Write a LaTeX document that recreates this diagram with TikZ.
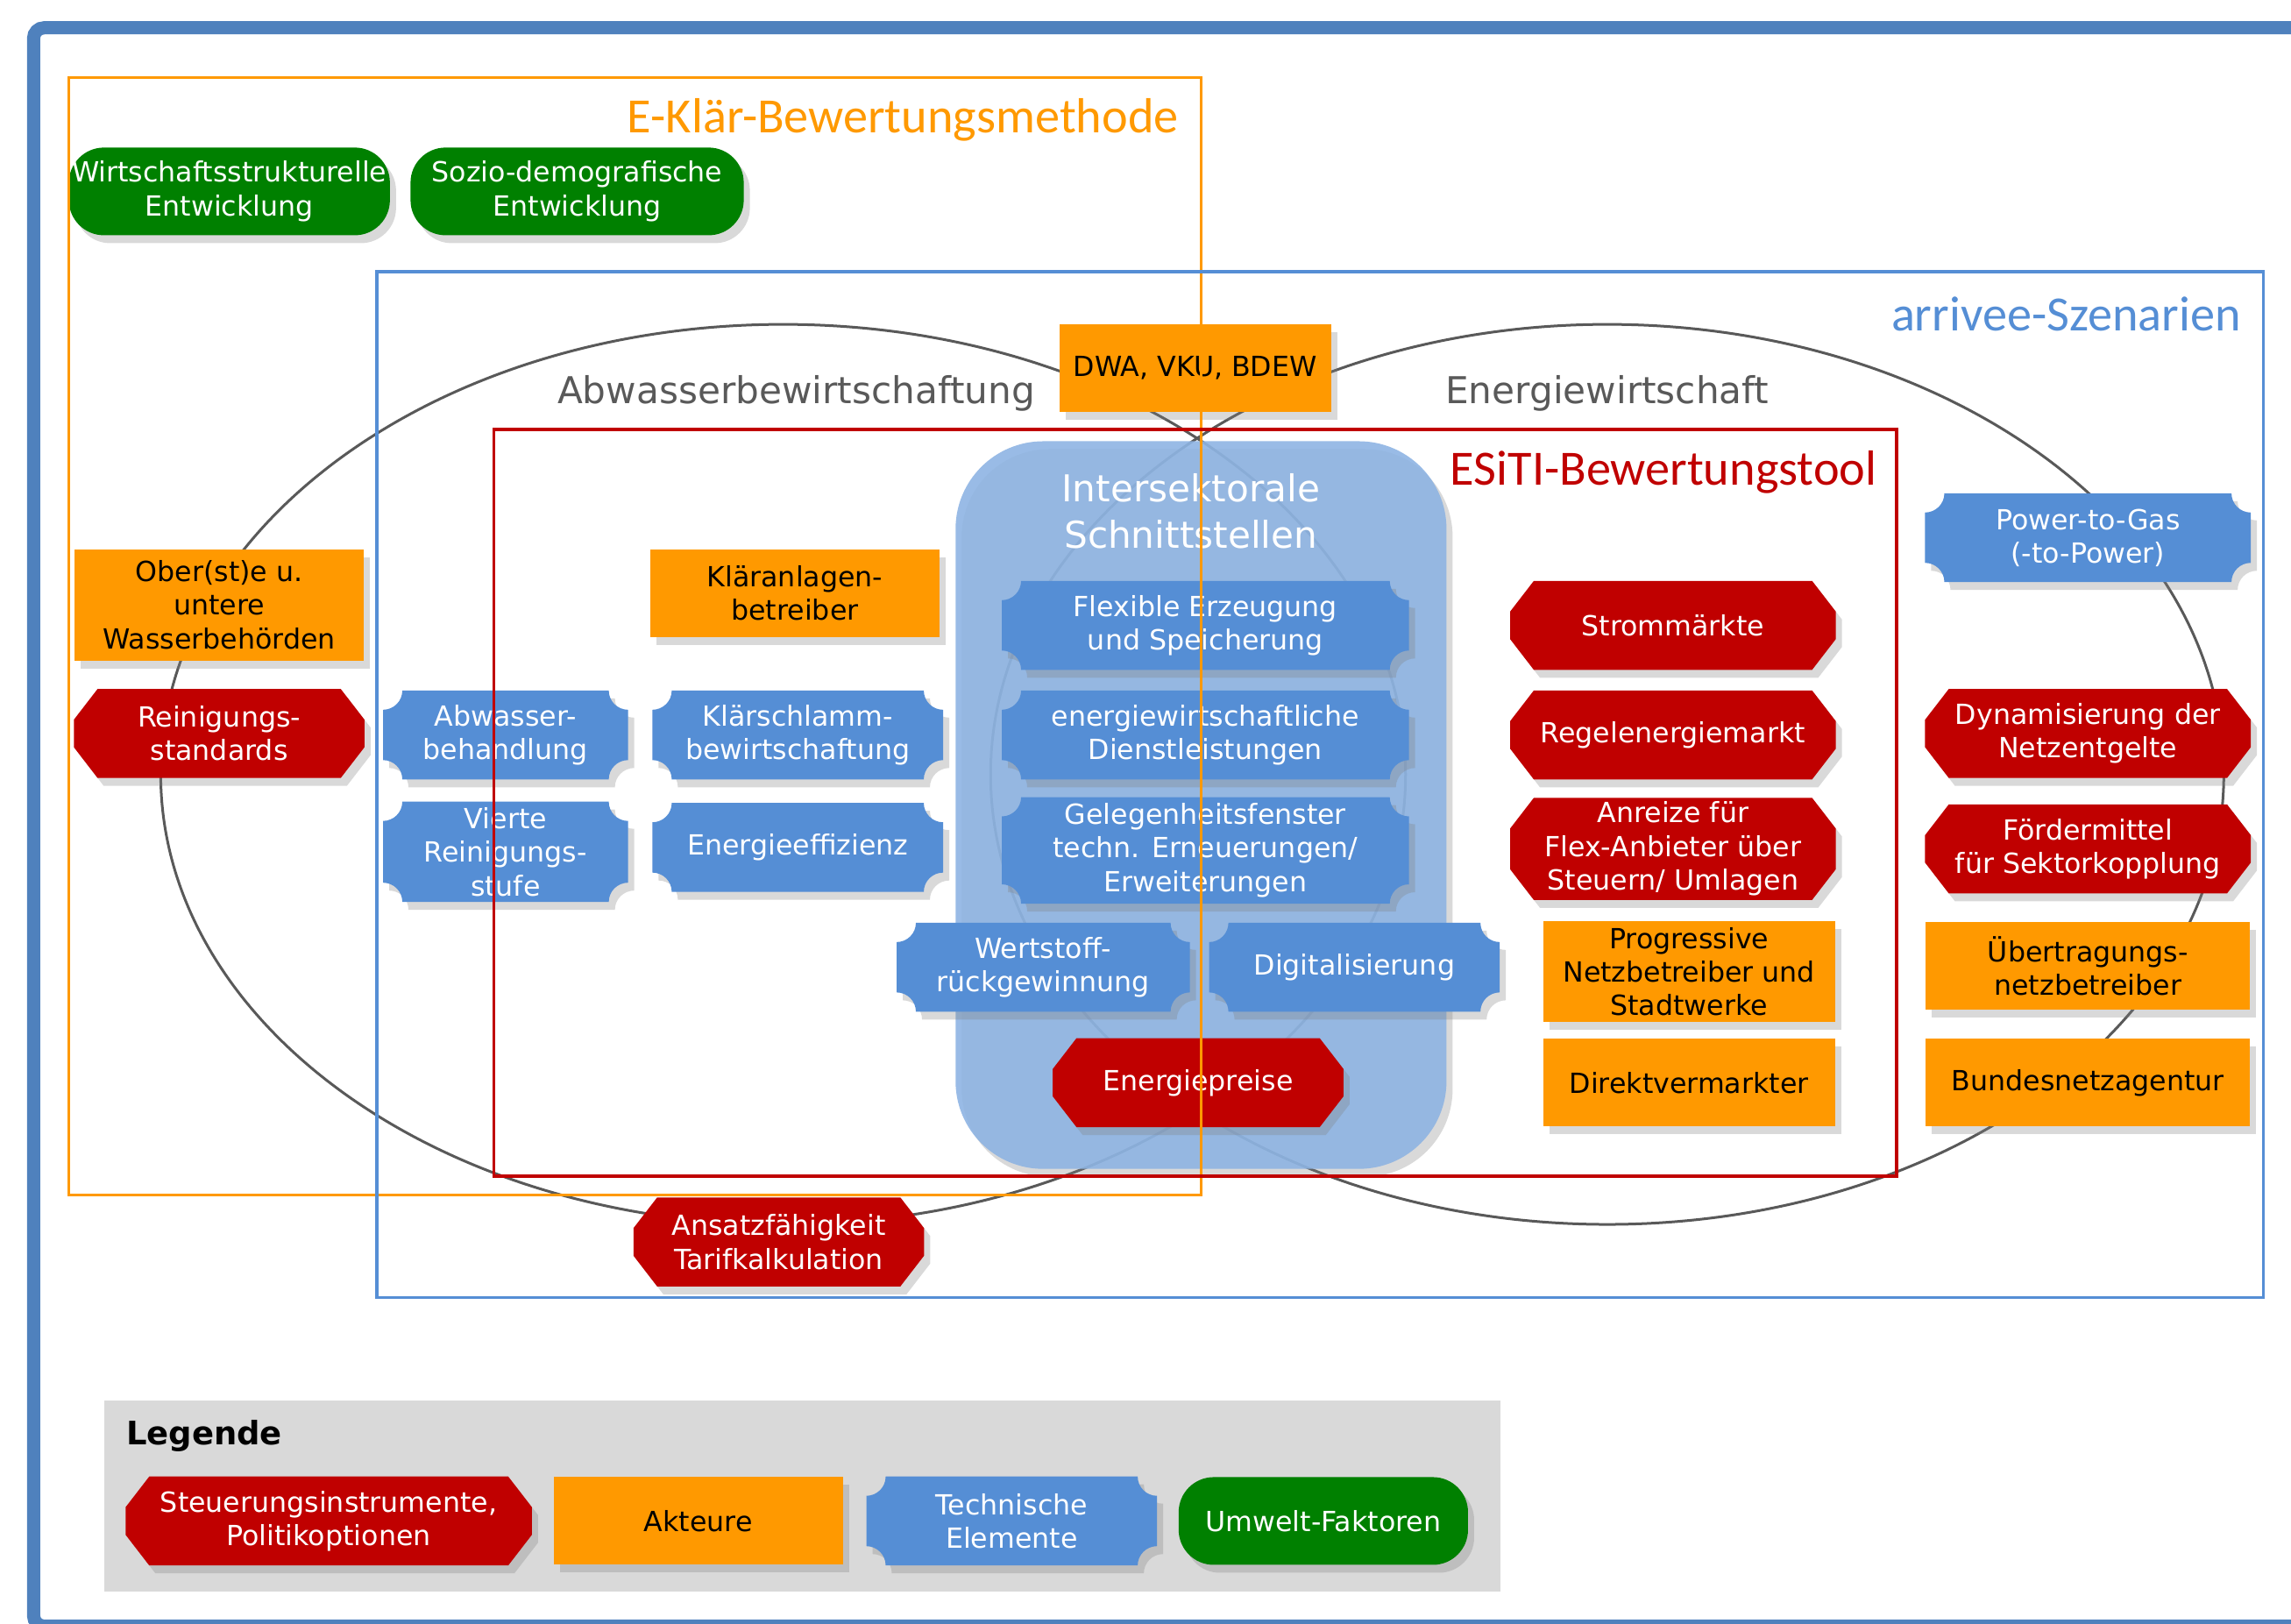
\documentclass[tikz,border=0pt]{standalone}
\usepackage{fontspec}
\setmainfont{DejaVu Sans}
\newfontfamily\carlito{Carlito}
\usetikzlibrary{positioning,shapes,shadows,calc}

\pgfdeclarelayer{bg}
\pgfdeclarelayer{mid}
\pgfsetlayers{bg,mid,main}

\definecolor{rahmenblau}{RGB}{79,129,189}
\definecolor{szenblau}{RGB}{85,142,213}
\definecolor{technikblau}{RGB}{85,142,213}
\definecolor{zonenblau}{RGB}{142,180,227}
\definecolor{steuerrot}{RGB}{192,0,0}
\definecolor{akteurorange}{RGB}{255,153,0}
\definecolor{umweltgruen}{RGB}{0,128,0}
\definecolor{ellgrau}{RGB}{89,89,89}
\definecolor{leggrau}{RGB}{217,217,217}

\newcommand{\boxfont}{\fontsize{9}{10.9}\selectfont}
\newcommand{\labelfont}{\fontsize{12}{15}\selectfont}

\tikzset{
  schatten/.style={drop shadow={shadow xshift=0.07cm,shadow yshift=-0.09cm,opacity=0.3}},
  kasten/.style={align=center,font=\boxfont,inner sep=1pt,minimum width=3.3cm,minimum height=1cm},
  akteur/.style={kasten,fill=akteurorange,text=black,schatten},
  steuer/.style={kasten,text=white},
  technik/.style={kasten,text=white},
  umwelt/.style={kasten,rounded corners=0.4cm,fill=umweltgruen,text=white,schatten},
  rahmen/.style={line width=0.035cm},
  titel/.style={anchor=east,font=\carlito\fontsize{16}{19}\selectfont},
}

\begin{document}
\begin{tikzpicture}[x=0.01667cm,y=-0.01667cm]
  \useasboundingbox (0,0) rectangle (1568,1111);
  \clip (0,0) rectangle (1568,1111);
  \draw[rahmenblau,line width=0.15cm,rounded corners=0.12cm] (23,19) rectangle (1620,1113);

  % Hintergrund: Ellipsen, Schnittstellen, Legende
  \begin{pgfonlayer}{bg}
    \draw[ellgrau,line width=0.03cm] (536,530) ellipse [x radius=426,y radius=308];
    \draw[ellgrau,line width=0.03cm] (1100,530) ellipse [x radius=422,y radius=308];
    \fill[zonenblau,fill opacity=0.9,rounded corners=1cm,schatten] (654,302) rectangle (990,800);
    \node[fill=leggrau,inner sep=0pt,minimum width=15.92cm,minimum height=2.18cm,anchor=north west] (legende) at (71,958) {};
  \end{pgfonlayer}

  \node[titel,text=akteurorange] (eklaer) at (814,82) {E-Klär-Bewertungsmethode};
  \node[titel,text=szenblau] (arrivee) at (1541,215) {arrivee-Szenarien};
  \node[titel,text=steuerrot] (esiti) at (1292,323) {ESiTI-Bewertungstool};
  \node[text=ellgrau,font=\labelfont] (abwlabel) at (545,269) {Abwasserbewirtschaftung};
  \node[text=ellgrau,font=\labelfont] (energielabel) at (1100,269) {Energiewirtschaft};
  \node[text=white,font=\labelfont,align=center] (schnitt) at (815,350) {Intersektorale\\Schnittstellen};

  % Umwelt-Faktoren
  \node[umwelt,minimum width=3.55cm] (wirtschaft) at (157,131) {Wirtschaftsstrukturelle\\Entwicklung};
  \node[umwelt,minimum width=3.8cm] (sozio) at (395,131) {Sozio-demografische\\Entwicklung};

  % Akteure
  \node[akteur,minimum width=3.1cm] (dwa) at (818,252) {DWA, VKU, BDEW};
  \node[akteur,minimum height=1.27cm] (behoerden) at (150,414) {Ober(st)e u.\\untere\\Wasserbehörden};
  \node[akteur] (klaeranlage) at (544,406) {Kläranlagen-\\betreiber};
  \node[akteur,minimum width=3.33cm,minimum height=1.15cm] (netzbetreiber) at (1156,665) {Progressive\\Netzbetreiber und\\Stadtwerke};
  \node[akteur,minimum width=3.33cm] (direkt) at (1156,741) {Direktvermarkter};
  \node[akteur,minimum width=3.7cm] (uebertragung) at (1429,661) {Übertragungs-\\netzbetreiber};
  \node[akteur,minimum width=3.7cm] (bnetza) at (1429,741) {Bundesnetzagentur};

  % Steuerungsinstrumente
  \node[steuer] (reinigung) at (150,502) {Reinigungs-\\standards};
  \node[steuer,minimum width=3.7cm] (strom) at (1145,428) {Strommärkte};
  \node[steuer,minimum width=3.7cm] (regel) at (1145,503) {Regelenergiemarkt};
  \node[steuer,minimum width=3.7cm,minimum height=1.15cm] (anreize) at (1145,581) {Anreize für\\Flex-Anbieter über\\Steuern/ Umlagen};
  \node[steuer,minimum width=3.7cm] (dynamik) at (1429,502) {Dynamisierung der\\Netzentgelte};
  \node[steuer,minimum width=3.7cm] (foerder) at (1429,581) {Fördermittel\\für Sektorkopplung};
  \node[steuer] (preise) at (820,741) {Energiepreise};
  \node[steuer] (ansatz) at (533,850) {Ansatzfähigkeit\\Tarifkalkulation};

  % Technische Elemente
  \node[technik,minimum width=2.78cm] (abwasser) at (346,503) {Abwasser-\\behandlung};
  \node[technik,minimum width=2.78cm,minimum height=1.13cm] (vierte) at (346,583) {Vierte\\Reinigungs-\\stufe};
  \node[technik] (schlamm) at (546,503) {Klärschlamm-\\bewirtschaftung};
  \node[technik] (effizienz) at (546,580) {Energieeffizienz};
  \node[technik,minimum width=4.63cm] (flexibel) at (825,428) {Flexible Erzeugung\\und Speicherung};
  \node[technik,minimum width=4.63cm] (dienste) at (825,503) {energiewirtschaftliche\\Dienstleistungen};
  \node[technik,minimum width=4.63cm,minimum height=1.2cm] (fenster) at (825,582) {Gelegenheitsfenster\\techn. Erneuerungen/\\Erweiterungen};
  \node[technik,minimum width=3.33cm] (wertstoff) at (714,662) {Wertstoff-\\rückgewinnung};
  \node[technik] (digital) at (927,662) {Digitalisierung};
  \node[technik,minimum width=3.7cm] (ptg) at (1429,368) {Power-to-Gas\\(-to-Power)};

  % Legende
  \node[anchor=west,font=\bfseries\fontsize{10.5}{12}\selectfont] (legtitel) at (79,983) {Legende};
  \node[steuer,minimum width=4.62cm] (legsteuer) at (225,1041) {Steuerungsinstrumente,\\Politikoptionen};
  \node[akteur,right=0.24cm of legsteuer] (legakteur) {Akteure};
  \node[technik,right=0.26cm of legakteur] (legtechnik) {Technische\\Elemente};
  \node[umwelt,right=0.24cm of legtechnik] (legumwelt) {Umwelt-Faktoren};

  % Formen: technische Elemente und Steuerungsinstrumente
  \begin{pgfonlayer}{mid}
    \foreach \knoten in {abwasser,vierte,schlamm,effizienz,flexibel,dienste,fenster,wertstoff,digital,ptg,legtechnik}
      \fill[technikblau,schatten] let \p1=(\knoten.north west), \p2=(\knoten.south east) in
        (\x1+0.22cm,\y1) -- (\x2-0.22cm,\y1) arc[start angle=180,end angle=270,radius=0.22cm]
        -- (\x2,\y2+0.22cm) arc[start angle=90,end angle=180,radius=0.22cm]
        -- (\x1+0.22cm,\y2) arc[start angle=0,end angle=90,radius=0.22cm]
        -- (\x1,\y1-0.22cm) arc[start angle=270,end angle=360,radius=0.22cm] -- cycle;
    \foreach \knoten in {reinigung,strom,regel,anreize,dynamik,foerder,preise,ansatz,legsteuer}
      \fill[steuerrot,schatten] let \p1=(\knoten.north west), \p2=(\knoten.south east) in
        (\x1+0.27cm,\y1) -- (\x2-0.27cm,\y1) -- (\x2,\y1-0.35cm) -- (\x2,\y2+0.35cm)
        -- (\x2-0.27cm,\y2) -- (\x1+0.27cm,\y2) -- (\x1,\y2+0.35cm) -- (\x1,\y1-0.35cm) -- cycle;
  \end{pgfonlayer}

  % Rahmen
  \draw[akteurorange,rahmen] (47,53) rectangle (822,818);
  \draw[szenblau,rahmen] (258,186) rectangle (1549,888);
  \draw[steuerrot,rahmen] (338,294) rectangle (1298,805);
\end{tikzpicture}
\end{document}
